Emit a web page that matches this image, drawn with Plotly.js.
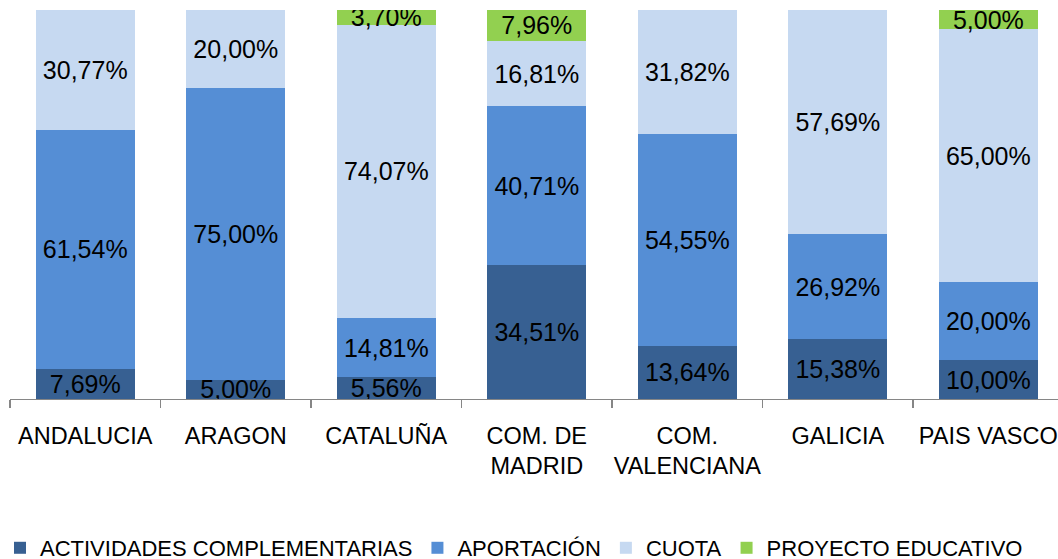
<!DOCTYPE html>
<html>
<head>
<meta charset="utf-8">
<script src="https://cdn.plot.ly/plotly-3.0.1.min.js"></script>
<style>html,body{margin:0;padding:0;background:#fff;}#chart{width:1058px;height:559px;}</style>
</head>
<body>
<div id="chart"></div>
<script>
const categories = ["ANDALUCIA", "ARAGON", "CATALUÑA", "COM. DE<br>MADRID", "COM.<br>VALENCIANA", "GALICIA", "PAIS VASCO"];
const actividades = [7.69, 5.00, 5.56, 34.51, 13.64, 15.38, 10.00];
const aportacion = [61.54, 75.00, 14.81, 40.71, 54.55, 26.92, 20.00];
const cuota = [30.77, 20.00, 74.07, 16.81, 31.82, 57.69, 65.00];
const proyecto = [0, 0, 3.70, 7.96, 0, 0, 5.00];

const seriesNames = ["ACTIVIDADES COMPLEMENTARIAS", "APORTACIÓN", "CUOTA", "PROYECTO EDUCATIVO"];
const seriesColors = ["#376092", "#558ED5", "#C6D9F1", "#92D050"];
const seriesValues = [actividades, aportacion, cuota, proyecto];

const FONT = "Liberation Sans, Arial, sans-serif";
function fmt(v) { return v > 0 ? v.toFixed(2).replace(".", ",") + "%" : ""; }

const traces = seriesValues.map((vals, i) => ({
  type: "bar",
  name: seriesNames[i],
  x: categories,
  y: vals,
  text: vals.map(fmt),
  textposition: "inside",
  insidetextanchor: "middle",
  constraintext: "none",
  textangle: 0,
  textfont: {family: FONT, size: 25, color: "#000"},
  hoverinfo: "none",
  marker: {color: seriesColors[i], line: {width: 0}}
}));

const layout = {
  width: 1058, height: 559,
  margin: {l: 10, r: 0, t: 10, b: 160},
  barmode: "stack",
  barnorm: "percent",
  bargap: 0.34,
  paper_bgcolor: "#fff",
  plot_bgcolor: "#fff",
  font: {family: FONT, size: 23, color: "#000"},
  showlegend: true,
  xaxis: {
    type: "category",
    range: [-0.5, 6.463],
    showline: true, linecolor: "#868686", linewidth: 1.3,
    ticks: "outside", tickson: "boundaries", ticklen: 8, tickcolor: "#868686", tickwidth: 1.3,
    tickangle: 0,
    ticklabelstandoff: 15,
    tickfont: {family: FONT, size: 23.5, color: "#000"},
    showgrid: false, zeroline: false, fixedrange: true
  },
  yaxis: {
    range: [0, 100], visible: false, showgrid: false, zeroline: false, fixedrange: true
  },
  legend: {
    orientation: "h",
    xref: "container", yref: "container",
    x: 0, xanchor: "left",
    y: 0.0197, yanchor: "middle",
    itemwidth: 30,
    font: {family: FONT, size: 22, color: "#000"},
    traceorder: "normal",
    itemclick: false, itemdoubleclick: false
  }
};

Plotly.newPlot("chart", traces, layout, {displayModeBar: false, staticPlot: true});
</script>
</body>
</html>
